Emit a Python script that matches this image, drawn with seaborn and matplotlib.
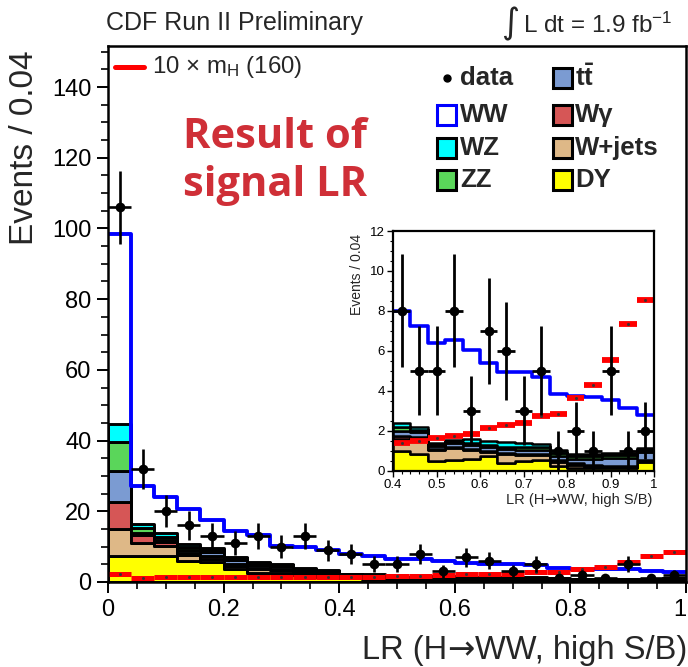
import numpy as np
import pandas as pd
import matplotlib
matplotlib.use("Agg")
import matplotlib.pyplot as plt
import seaborn as sns
from matplotlib.patches import Rectangle
from matplotlib.lines import Line2D
from matplotlib.ticker import MultipleLocator, FuncFormatter

# ---------------------------------------------------------------------------
# LR(H->WW, high S/B): 25 bins of width 0.04
# ---------------------------------------------------------------------------
n_bins = 25
lr_range = (0.0, 1.0)
bin_edges = np.linspace(lr_range[0], lr_range[1], n_bins + 1)
bin_centers = 0.5 * (bin_edges[:-1] + bin_edges[1:])
half_width = 0.5 * np.diff(bin_edges)

data_counts = [106, 32, 20, 16, 13, 11, 13, 10, 13, 9,
               8, 5, 5, 8, 3, 7, 6, 3, 5, 1, 2, 1, 5, 1, 2]

# background expectations per bin (stacked bottom -> top)
dy = [7.4, 7.4, 7.4, 5.9, 5.6, 3.6, 2.6, 2.5, 2.0, 1.5,
      1.0, 0.85, 0.5, 0.55, 0.6, 0.75, 0.4, 0.5, 0.55, 0.25, 0.15, 0.15, 0.15, 0.15, 0.45]
wjets = [7.5, 3.5, 2.8, 1.6, 1.0, 1.0, 1.0, 0.9, 0.6, 0.6,
         0.6, 0.75, 0.55, 0.6, 0.45, 0.2, 0.45, 0.3, 0.25, 0.2, 0.15, 0.1, 0.05, 0.05, 0.05]
wgamma = [7.8, 2.4, 1.2, 0.6, 0.8, 0.6, 0.5, 0.4, 0.3, 0.3,
          0.15, 0.1, 0.05, 0.05, 0.05, 0.05, 0.05, 0.05, 0.05, 0.1, 0.1, 0.05, 0.05, 0.05, 0.05]
ttbar = [8.7, 0.7, 0.5, 1.0, 1.2, 1.0, 0.8, 0.6, 0.5, 0.5,
         0.25, 0.25, 0.15, 0.2, 0.2, 0.2, 0.2, 0.2, 0.2, 0.2, 0.2, 0.3, 0.4, 0.4, 0.4]
zz = [8.1, 1.4, 0.9, 0.8, 0.5, 0.5, 0.4, 0.4, 0.3, 0.3,
      0.2, 0.1, 0.05, 0.05, 0.1, 0.1, 0.1, 0.15, 0.15, 0.15, 0.15, 0.15, 0.15, 0.15, 0.1]
wz = [5.1, 0.9, 1.0, 0.8, 0.4, 0.5, 0.4, 0.3, 0.2, 0.2,
      0.2, 0.15, 0.1, 0.1, 0.2, 0.2, 0.25, 0.2, 0.15, 0.15, 0.1, 0.1, 0.1, 0.1, 0.1]
ww = [53.9, 10.9, 10.2, 9.9, 8.0, 7.3, 7.6, 5.1, 5.9, 5.6,
      5.6, 5.05, 5.0, 5.0, 4.45, 3.9, 3.5, 3.55, 3.35, 2.8, 2.9, 2.85, 2.65, 2.25, 1.65]

# Higgs signal, m_H = 160, scaled by 10
signal_x10 = [2.2, 1.2, 1.5, 1.5, 1.5, 1.5, 1.5, 1.5, 1.5, 1.5,
              1.4, 1.5, 1.65, 1.75, 1.85, 2.15, 2.3, 2.4, 2.75, 2.85, 3.65, 4.3, 5.55, 7.35, 8.55]

process_names = ["WZ", "ZZ", "tt", "Wgamma", "W+jets", "DY"]   # top -> bottom of stack
process_values = [wz, zz, ttbar, wgamma, wjets, dy]
process_colors = {"WZ": "#00ffff", "ZZ": "#5ad65a", "tt": "#7b9bd2",
                  "Wgamma": "#d65656", "W+jets": "#deb887", "DY": "#ffff00"}

stack_df = pd.DataFrame({
    "LR": np.tile(bin_centers, len(process_names)),
    "bin": np.tile(np.arange(n_bins), len(process_names)),
    "events": np.concatenate(process_values),
    "process": np.repeat(process_names, len(bin_centers)),
})
total_expected = np.sum(process_values, axis=0) + np.array(ww)
data_arr = np.array(data_counts, dtype=float)
signal_arr = np.array(signal_x10)

axis_title_parts = ["LR (H", "\u2192", "WW, high S/B)"]

# ---------------------------------------------------------------------------
sns.set_theme(style="ticks")
plt.rcParams["font.family"] = ["Liberation Sans", "DejaVu Sans"]
plt.rcParams["mathtext.fontset"] = "custom"
plt.rcParams["mathtext.rm"] = "Liberation Sans"
plt.rcParams["mathtext.it"] = "Liberation Sans:italic"
plt.rcParams["mathtext.bf"] = "Liberation Sans:bold"

W, H = 688, 667
fig = plt.figure(figsize=(W / 100, H / 100), dpi=100)
fig.patch.set_facecolor("white")
renderer = fig.canvas.get_renderer()


def fx(x):
    return x / W


def fy(y):
    return 1 - y / H


def title_right(x_right, y_base, fontsize):
    """Right-aligned axis title; the arrow is taken from DejaVu Sans."""
    x = x_right
    for part in reversed(axis_title_parts):
        fam = "DejaVu Sans" if part == "\u2192" else "Liberation Sans"
        t = fig.text(fx(x), fy(y_base), part, ha="right", va="baseline",
                     fontsize=fontsize, family=fam)
        x -= t.get_window_extent(renderer).width


def draw_panel(ax, first_bin, edge_lw, ww_lw, sig_lw, ms, err_lw):
    sel = slice(first_bin, None)
    nb = n_bins - first_bin
    brange = (bin_edges[first_bin], bin_edges[-1])
    sub = stack_df[stack_df["bin"] >= first_bin]
    sns.histplot(data=sub, x="LR", weights="events", hue="process",
                 hue_order=process_names, palette=process_colors,
                 multiple="stack", bins=nb, binrange=brange,
                 element="step", fill=True, alpha=1, edgecolor="black",
                 linewidth=edge_lw, legend=False, ax=ax)
    sns.histplot(x=bin_centers[sel], weights=total_expected[sel], bins=nb,
                 binrange=brange, element="step", fill=False,
                 color="#0000ff", linewidth=ww_lw, ax=ax)
    ax.hlines(signal_arr[sel], bin_edges[:-1][sel], bin_edges[1:][sel],
              colors="#ff0000", linewidth=sig_lw, zorder=4)
    ax.plot(bin_centers[sel], signal_arr[sel], ls="none", marker="s", ms=1.0,
            color="#333333", zorder=4)
    ax.errorbar(bin_centers[sel], data_arr[sel], xerr=half_width[sel],
                yerr=np.sqrt(data_arr[sel]), fmt="none", ecolor="black",
                elinewidth=err_lw, capsize=0, zorder=5)
    sns.scatterplot(x=bin_centers[sel], y=data_arr[sel], color="black",
                    s=ms ** 2, linewidth=0, ax=ax, zorder=6)
    ax.set_xlabel("")
    ax.set_ylabel("")
    for side in ["top", "right", "left", "bottom"]:
        ax.spines[side].set_visible(True)
        ax.spines[side].set_color("black")
        ax.spines[side].set_zorder(10)
    ax.tick_params(which="both", direction="out", top=False, right=False,
                   colors="black")


# ---------------- main panel ----------------
ax = fig.add_axes([fx(108), fy(582), (686 - 108) / W, (582 - 46) / H])
draw_panel(ax, 0, edge_lw=2.1, ww_lw=2.8, sig_lw=3.6, ms=7.0, err_lw=1.9)
ax.set_xlim(0, 1)
ax.set_ylim(0, 151.6)
main_xticks = [0, 0.2, 0.4, 0.6, 0.8, 1.0]
ax.set_xticks(main_xticks)
ax.set_xticklabels([f"{v:g}" for v in main_xticks])
ax.get_xticklabels()[-1].set_horizontalalignment("right")
ax.xaxis.set_minor_locator(MultipleLocator(0.05))
ax.yaxis.set_major_locator(MultipleLocator(20))
ax.yaxis.set_minor_locator(MultipleLocator(5))
ax.tick_params(which="major", length=8, width=1.4, labelsize=17, pad=4)
ax.tick_params(which="minor", length=5, width=1.2)
for s in ax.spines.values():
    s.set_linewidth(1.8)

fig.text(fx(25), fy(50), "Events / 0.04", rotation=90, ha="center", va="top",
         fontsize=24)
title_right(687, 659, 23.5)

fig.text(fx(106), fy(30), "CDF Run II Preliminary", ha="left", va="baseline",
         fontsize=18)
fig.text(fx(501), fy(24), "\u222b", ha="left", va="center", fontsize=25,
         family="DejaVu Sans")
fig.text(fx(523), fy(33), r"L dt = 1.9 fb$^{\mathrm{-1}}$", ha="left",
         va="baseline", fontsize=17.5)

# signal legend line
fig.add_artist(Line2D([fx(115), fx(144)], [fy(67), fy(67)], color="#ff0000",
                      lw=3.6, transform=fig.transFigure))
fig.text(fx(152), fy(67), r"10 $\times$ m$_{\mathrm{H}}$ (160)", ha="left",
         va="center", fontsize=17.3)

# annotation
fig.text(fx(183), fy(148), "Result of", ha="left", va="baseline", fontsize=30,
         family="Open Sans", fontweight="bold", color="#cf2f37")
fig.text(fx(183), fy(196), "signal LR", ha="left", va="baseline", fontsize=30,
         family="Open Sans", fontweight="bold", color="#cf2f37")

# process legend
legend_rows = [78, 115, 148, 180]
col1 = [("data", None), ("WW", "white"), ("WZ", process_colors["WZ"]),
        ("ZZ", process_colors["ZZ"])]
col2 = [(r"t$\mathbf{\bar{t}}$", process_colors["tt"]),
        ("W\u03b3", process_colors["Wgamma"]),
        ("W+jets", process_colors["W+jets"]), ("DY", process_colors["DY"])]
for (label, color), yc in zip(col1, legend_rows):
    if color is None:
        fig.add_artist(Line2D([fx(447)], [fy(yc)], marker="o", ms=5,
                              color="black", transform=fig.transFigure))
    else:
        edge = "#0000ff" if label == "WW" else "black"
        fig.add_artist(Rectangle((fx(437), fy(yc + 10)), 19 / W, 20 / H,
                                 facecolor=color, edgecolor=edge, lw=2.2,
                                 transform=fig.transFigure))
    fig.text(fx(460), fy(yc), label, ha="left", va="center", fontsize=18.5,
             fontweight="bold")
for (label, color), yc in zip(col2, legend_rows):
    fig.add_artist(Rectangle((fx(553), fy(yc + 10)), 19 / W, 20 / H,
                             facecolor=color, edgecolor="black", lw=2.2,
                             transform=fig.transFigure))
    fig.text(fx(575), fy(yc), label, ha="left", va="center", fontsize=18.5,
             fontweight="bold")

# ---------------- inset: high-LR region ----------------
axi = fig.add_axes([fx(393), fy(470.5), (654 - 393) / W, (470.5 - 231) / H])
axi.set_facecolor("white")
draw_panel(axi, 10, edge_lw=1.8, ww_lw=2.6, sig_lw=4.2, ms=7.0, err_lw=2.0)
axi.set_xlim(0.4, 1.0)
axi.set_ylim(0, 12)
axi.xaxis.set_major_locator(MultipleLocator(0.1))
axi.xaxis.set_minor_locator(MultipleLocator(0.02))
axi.yaxis.set_major_locator(MultipleLocator(2))
axi.yaxis.set_minor_locator(MultipleLocator(0.5))
axi.xaxis.set_major_formatter(FuncFormatter(lambda v, p: f"{v:g}"))
axi.tick_params(which="major", length=4, width=1.0, labelsize=9.5, pad=2)
axi.tick_params(which="minor", length=2.5, width=0.8)
for s in axi.spines.values():
    s.set_linewidth(1.6)

fig.text(fx(357), fy(234), "Events / 0.04", rotation=90, ha="center",
         va="top", fontsize=10)
title_right(652, 504, 10.5)

fig.savefig("out.png", dpi=100, facecolor="white")
